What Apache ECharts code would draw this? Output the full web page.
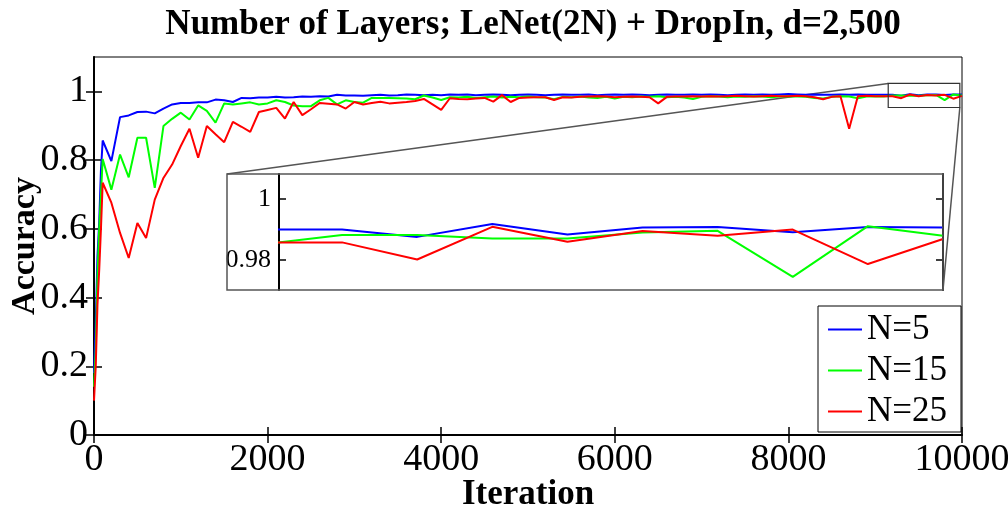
<!DOCTYPE html>
<html>
<head>
<meta charset="utf-8">
<script src="https://cdn.jsdelivr.net/npm/echarts@6/dist/echarts.min.js"></script>
<style>
  html, body { margin: 0; padding: 0; background: #fff; }
  #chart { width: 1008px; height: 507px; }
</style>
</head>
<body>
<div id="chart"></div>
<script>
// iterations at which accuracy was logged
var iterations = [0, 20, 40, 60, 80,
  100, 200, 300, 400, 500, 600, 700, 800, 900, 1000,
  1100, 1200, 1300, 1400, 1500, 1600, 1700, 1800, 1900, 2000,
  2100, 2200, 2300, 2400, 2500, 2600, 2700, 2800, 2900, 3000,
  3100, 3200, 3300, 3400, 3500, 3600, 3700, 3800, 3900, 4000,
  4100, 4200, 4300, 4400, 4500, 4600, 4700, 4800, 4900, 5000,
  5100, 5200, 5300, 5400, 5500, 5600, 5700, 5800, 5900, 6000,
  6100, 6200, 6300, 6400, 6500, 6600, 6700, 6800, 6900, 7000,
  7100, 7200, 7300, 7400, 7500, 7600, 7700, 7800, 7900, 8000,
  8100, 8200, 8300, 8400, 8500, 8600, 8700, 8800, 8900, 9000,
  9100, 9200, 9300, 9400, 9500, 9600, 9700, 9800, 9900, 10000];

var accN5 = [0.18, 0.33, 0.52, 0.62, 0.77,
  0.857, 0.797, 0.925, 0.930, 0.940, 0.941, 0.936, 0.950, 0.962, 0.966,
  0.966, 0.968, 0.968, 0.976, 0.974, 0.969, 0.981, 0.980, 0.982, 0.982,
  0.984, 0.982, 0.983, 0.985, 0.984, 0.986, 0.985, 0.990, 0.988, 0.988,
  0.987, 0.989, 0.990, 0.988, 0.989, 0.991, 0.990, 0.989, 0.990, 0.989,
  0.991, 0.990, 0.991, 0.989, 0.990, 0.991, 0.990, 0.989, 0.990, 0.991,
  0.990, 0.989, 0.990, 0.991, 0.990, 0.990, 0.991, 0.989, 0.990, 0.991,
  0.990, 0.991, 0.990, 0.989, 0.990, 0.991, 0.990, 0.990, 0.991, 0.990,
  0.991, 0.990, 0.989, 0.990, 0.991, 0.990, 0.991, 0.990, 0.991, 0.992,
  0.991, 0.990, 0.991, 0.990, 0.990, 0.991, 0.990, 0.991, 0.990, 0.990,
  0.990, 0.990, 0.9876, 0.9918, 0.9884, 0.9907, 0.9908, 0.9891, 0.9908, 0.9907];

var accN15 = [0.14, 0.25, 0.46, 0.60, 0.70,
  0.803, 0.714, 0.816, 0.750, 0.865, 0.865, 0.719, 0.899, 0.920, 0.938,
  0.918, 0.959, 0.943, 0.909, 0.965, 0.962, 0.965, 0.968, 0.962, 0.965,
  0.974, 0.969, 0.959, 0.957, 0.957, 0.974, 0.981, 0.962, 0.974, 0.969,
  0.967, 0.981, 0.981, 0.981, 0.980, 0.979, 0.977, 0.988, 0.982, 0.975,
  0.983, 0.982, 0.984, 0.981, 0.983, 0.985, 0.982, 0.984, 0.983, 0.985,
  0.983, 0.982, 0.977, 0.984, 0.983, 0.985, 0.982, 0.981, 0.984, 0.979,
  0.984, 0.983, 0.985, 0.984, 0.986, 0.983, 0.984, 0.982, 0.978, 0.984,
  0.986, 0.985, 0.983, 0.985, 0.984, 0.986, 0.985, 0.983, 0.985, 0.986,
  0.985, 0.984, 0.981, 0.979, 0.984, 0.986, 0.985, 0.980, 0.985, 0.986,
  0.9853, 0.9882, 0.9882, 0.9871, 0.9871, 0.9890, 0.9896, 0.9745, 0.9911, 0.9880];

var accN25 = [0.10, 0.20, 0.38, 0.48, 0.60,
  0.734, 0.676, 0.588, 0.515, 0.617, 0.573, 0.685, 0.748, 0.787, 0.841,
  0.891, 0.807, 0.899, 0.875, 0.852, 0.911, 0.897, 0.882, 0.940, 0.946,
  0.952, 0.921, 0.969, 0.931, 0.948, 0.966, 0.964, 0.962, 0.950, 0.969,
  0.962, 0.966, 0.970, 0.965, 0.967, 0.969, 0.972, 0.978, 0.962, 0.946,
  0.980, 0.978, 0.977, 0.979, 0.981, 0.970, 0.989, 0.969, 0.981, 0.982,
  0.983, 0.983, 0.975, 0.983, 0.982, 0.984, 0.985, 0.986, 0.985, 0.983,
  0.984, 0.985, 0.984, 0.983, 0.965, 0.984, 0.985, 0.985, 0.986, 0.985,
  0.986, 0.985, 0.986, 0.987, 0.986, 0.985, 0.986, 0.987, 0.986, 0.986,
  0.987, 0.986, 0.983, 0.977, 0.984, 0.986, 0.891, 0.986, 0.987, 0.986,
  0.9858, 0.9858, 0.9802, 0.9909, 0.9860, 0.9895, 0.9880, 0.9900, 0.9787, 0.9869];

var seriesNames = ['N=5', 'N=15', 'N=25'];
var seriesColors = ['#0000ff', '#00ff00', '#ff0000'];
var seriesValues = [accN5, accN15, accN25];

var xTicks = [0, 2000, 4000, 6000, 8000, 10000];
var yTicks = [0, 0.2, 0.4, 0.6, 0.8, 1];
var insetTicks = [0.98, 1];

// zoomed region (data coords) and inset ranges
var zoomX = [9150, 9975];
var zoomY = [0.953, 1.023];
var insetX = [9116, 10000];
var insetY = [0.9702, 1.0082];

var font = 'Liberation Serif';

function pairs(vals) {
  var out = [];
  for (var i = 0; i < vals.length; i++) out.push([iterations[i], vals[i]]);
  return out;
}

var myChart = echarts.init(document.getElementById('chart'));

var series = [];
for (var i = 0; i < seriesNames.length; i++) {
  series.push({
    name: seriesNames[i], type: 'line', xAxisIndex: 0, yAxisIndex: 0,
    data: pairs(seriesValues[i]), showSymbol: false, symbol: 'none',
    color: seriesColors[i], lineStyle: { width: 2, color: seriesColors[i] }, z: 3 + i
  });
}
for (var j = 0; j < seriesNames.length; j++) {
  series.push({
    name: seriesNames[j], type: 'line', xAxisIndex: 2, yAxisIndex: 2,
    data: pairs(seriesValues[j]), showSymbol: false, symbol: 'none', clip: true,
    color: seriesColors[j], lineStyle: { width: 2, color: seriesColors[j] }, z: 3 + j
  });
}

var tickLabel = { fontFamily: font, fontSize: 38, color: '#000' };
var plain = function (v) { return String(v); };

var option = {
  animation: false,
  backgroundColor: '#fff',
  title: {
    text: 'Number of Layers; LeNet(2N) + DropIn, d=2,500',
    left: 528, top: 2, textAlign: 'center',
    textStyle: { fontFamily: font, fontWeight: 'bold', fontSize: 35, color: '#000' }
  },
  grid: [
    { left: 94, top: 57, width: 868, height: 378, show: true, borderColor: '#000', borderWidth: 1, outerBoundsMode: 'none' },
    { left: 279, top: 174, width: 664, height: 116, outerBoundsMode: 'none' }
  ],
  legend: {
    data: seriesNames, orient: 'vertical', left: 818, top: 306,
    icon: 'rect', itemWidth: 34, itemHeight: 2, itemGap: 6,
    padding: [6, 14, 3, 10],
    borderColor: '#000', borderWidth: 1, backgroundColor: '#fff',
    textStyle: { fontFamily: font, fontSize: 35, color: '#000' }
  },
  xAxis: [
    {
      type: 'value', gridIndex: 0, min: 0, max: 10000, interval: 2000,
      name: 'Iteration', nameLocation: 'middle', nameGap: 42, nameMoveOverlap: false,
      nameTextStyle: { fontFamily: font, fontWeight: 'bold', fontSize: 35, color: '#000' },
      axisLine: { show: true, lineStyle: { color: '#000', width: 2 } },
      axisTick: { show: true, inside: true, length: 8, lineStyle: { color: '#000', width: 1.5 } },
      axisLabel: Object.assign({ margin: 6, customValues: xTicks, formatter: plain }, tickLabel),
      splitLine: { show: false }
    },
    {
      type: 'value', gridIndex: 0, position: 'top', min: 0, max: 10000, interval: 2000,
      axisLine: { show: true, lineStyle: { color: '#000', width: 1 } },
      axisTick: { show: true, inside: true, length: 8, lineStyle: { color: '#000', width: 1.5 } },
      axisLabel: { show: false }, splitLine: { show: false }
    },
    {
      type: 'value', gridIndex: 1, min: insetX[0], max: insetX[1], show: false
    }
  ],
  yAxis: [
    {
      type: 'value', gridIndex: 0, min: 0, max: 1.1,
      name: 'Accuracy', nameLocation: 'middle', nameGap: 52, nameRotate: 90, nameMoveOverlap: false,
      nameTextStyle: { fontFamily: font, fontWeight: 'bold', fontSize: 34, color: '#000' },
      axisLine: { show: true, lineStyle: { color: '#000', width: 2 } },
      axisTick: { show: true, inside: true, length: 8, customValues: yTicks, lineStyle: { color: '#000', width: 1.5 } },
      axisLabel: Object.assign({ margin: 6, customValues: yTicks, formatter: plain }, tickLabel),
      splitLine: { show: false }
    },
    {
      type: 'value', gridIndex: 0, position: 'right', min: 0, max: 1.1,
      axisLine: { show: true, lineStyle: { color: '#000', width: 1.5 } },
      axisTick: { show: true, inside: true, length: 8, customValues: yTicks, lineStyle: { color: '#000', width: 1.5 } },
      axisLabel: { show: false }, splitLine: { show: false }
    },
    {
      type: 'value', gridIndex: 1, min: insetY[0], max: insetY[1],
      axisLine: { show: true, lineStyle: { color: '#000', width: 2 } },
      axisTick: { show: true, inside: true, length: 7, customValues: insetTicks, lineStyle: { color: '#000', width: 1.5 } },
      axisLabel: { margin: 8, customValues: insetTicks, formatter: plain, fontFamily: font, fontSize: 26, color: '#000' },
      splitLine: { show: false }
    },
    {
      type: 'value', gridIndex: 1, position: 'right', min: insetY[0], max: insetY[1],
      axisLine: { show: true, lineStyle: { color: '#000', width: 2 } },
      axisTick: { show: true, inside: true, length: 7, customValues: insetTicks, lineStyle: { color: '#000', width: 1.5 } },
      axisLabel: { show: false }, splitLine: { show: false }
    }
  ],
  series: series
};

myChart.setOption(option);

// zoom box, inset frame and connector lines
var boxTL = myChart.convertToPixel({ gridIndex: 0 }, [zoomX[0], zoomY[1]]);
var boxBR = myChart.convertToPixel({ gridIndex: 0 }, [zoomX[1], zoomY[0]]);
var inTR = myChart.convertToPixel({ gridIndex: 1 }, [insetX[1], insetY[1]]);
var inBR = myChart.convertToPixel({ gridIndex: 1 }, [insetX[1], insetY[0]]);
var frameLeft = 227;
var gray = '#555';

myChart.setOption({
  graphic: [
    { type: 'rect', silent: true, z: 10,
      shape: { x: boxTL[0], y: boxTL[1], width: boxBR[0] - boxTL[0], height: boxBR[1] - boxTL[1] },
      style: { fill: 'none', stroke: '#333', lineWidth: 1.2 } },
    { type: 'rect', silent: true, z: 10,
      shape: { x: frameLeft, y: inTR[1], width: inTR[0] - frameLeft, height: inBR[1] - inTR[1] },
      style: { fill: 'none', stroke: gray, lineWidth: 1.5 } },
    { type: 'line', silent: true, z: 1,
      shape: { x1: frameLeft, y1: inTR[1], x2: boxTL[0], y2: boxTL[1] },
      style: { stroke: gray, lineWidth: 1.5 } },
    { type: 'line', silent: true, z: 1,
      shape: { x1: inBR[0], y1: inBR[1], x2: boxBR[0], y2: boxBR[1] },
      style: { stroke: gray, lineWidth: 1.5 } }
  ]
});

window.addEventListener('resize', function () { myChart.resize(); });
</script>
</body>
</html>
